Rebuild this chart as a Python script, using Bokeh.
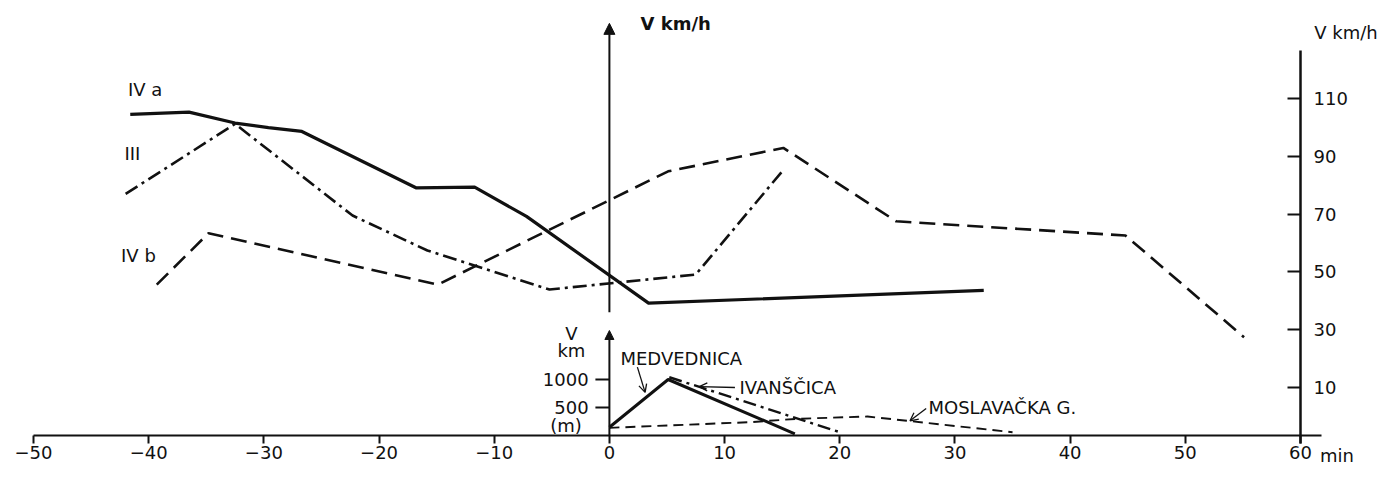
import math
from bokeh.plotting import figure
from bokeh.models import Range1d, FixedTicker, Arrow, NormalHead, OpenHead, LinearAxis
from bokeh.core.properties import value
from bokeh.embed import file_html
from bokeh.resources import INLINE

# ---------------- data ----------------
x_ticks = [-50, -40, -30, -20, -10, 0, 10, 20, 30, 40, 50, 60]
v_ticks = [10, 30, 50, 70, 90, 110]
alt_ticks = [500, 1000]
alt_tick_labels = ["500", "1000"]

# speed profiles (min, km/h)
time_IVa = [-41.6, -36.5, -32.5, -29.6, -26.7, -16.8, -11.7, -7.2, 3.4, 32.5]
speed_IVa = [104.5, 105.3, 101.5, 99.9, 98.6, 79.1, 79.3, 69.2, 39.2, 43.6]

time_III = [-42.0, -32.5, -22.3, -15.8, -5.2, 7.5, 15.0]
speed_III = [77.0, 101.2, 69.5, 57.4, 43.9, 49.1, 84.8]

time_IVb = [-39.3, -34.8, -14.9, 5.1, 15.1, 24.9, 44.8, 55.1]
speed_IVb = [45.6, 63.4, 45.6, 84.8, 92.9, 67.5, 62.6, 27.4]

# terrain profiles (min, m)
time_med = [0.0, 5.1, 16.1]
alt_med = [148, 1000, 30]

time_ivan = [5.2, 20.0]
alt_ivan = [1040, 60]

time_mos = [0.0, 12.2, 16.3, 22.4, 35.0]
alt_mos = [137, 238, 298, 339, 59]

# ---------------- figure ----------------
FONT = "DejaVu Sans"
INK = "#111111"

X_AXIS_AT = -6.6      # speed value where the time axis is drawn
SPEED_AXIS_AT = 60    # time value where the speed axis is drawn

p = figure(width=1382, height=473,
           x_range=Range1d(-52.865, 67.12), y_range=Range1d(-19.76, 143.91),
           x_axis_location=None, y_axis_location=None,
           toolbar_location=None, output_backend="svg",
           min_border=0, min_border_left=0, min_border_right=0,
           min_border_top=0, min_border_bottom=0)
p.extra_y_ranges = {"alt": Range1d(-678.6, 7767.9)}
p.outline_line_color = None
p.xgrid.visible = False
p.ygrid.visible = False

# time axis
xa = LinearAxis(fixed_location=X_AXIS_AT, ticker=FixedTicker(ticks=x_ticks),
                bounds=(-50, 61.8))
xa.major_label_text_font = FONT
xa.major_label_text_font_size = "18px"
xa.major_label_text_color = INK
xa.major_tick_out = 8
xa.major_tick_in = 0
xa.minor_tick_out = 0
xa.minor_tick_in = 0
xa.axis_line_width = 2
xa.axis_line_color = INK
xa.major_tick_line_width = 2
xa.major_tick_line_color = INK
xa.major_label_standoff = 3
p.add_layout(xa, "below")

# speed axis (right)
ya = LinearAxis(fixed_location=SPEED_AXIS_AT, ticker=FixedTicker(ticks=v_ticks),
                bounds=(-9.4, 126.6))
ya.major_label_text_font = FONT
ya.major_label_text_font_size = "18px"
ya.major_label_text_color = INK
ya.major_tick_in = 13
ya.major_tick_out = 0
ya.minor_tick_in = 0
ya.minor_tick_out = 0
ya.axis_line_width = 2.5
ya.axis_line_color = INK
ya.major_tick_line_width = 2
ya.major_tick_line_color = INK
ya.major_label_standoff = 13
p.add_layout(ya, "right")

# speed curves
p.line(time_IVa, speed_IVa, line_width=3.2, line_color=INK, line_join="round")
p.line(time_III, speed_III, line_width=2.6, line_color=INK, line_dash="14 5 3 5")
p.line(time_IVb, speed_IVb, line_width=2.6, line_color=INK, line_dash="16 8")

# terrain curves
p.line(time_med, alt_med, y_range_name="alt", line_width=3, line_color=INK)
p.line(time_ivan, alt_ivan, y_range_name="alt", line_width=2.4, line_color=INK, line_dash="13 5 3 5")
p.line(time_mos, alt_mos, y_range_name="alt", line_width=1.9, line_color=INK, line_dash="10 6")

# central speed axis (arrow)
axis_v_bottom, axis_v_top = 36, 136
p.add_layout(Arrow(end=NormalHead(size=11, fill_color=INK, line_color=INK),
                   x_start=0, y_start=axis_v_bottom, x_end=0, y_end=axis_v_top,
                   line_width=2, line_color=INK))

# inset altitude axis
inset_top = 1875
p.add_layout(Arrow(end=NormalHead(size=9, fill_color=INK, line_color=INK),
                   x_start=0, y_start=0, x_end=0, y_end=inset_top,
                   line_width=2, line_color=INK, y_range_name="alt"))
p.ray(x=[0] * len(alt_ticks), y=alt_ticks, length=14, length_units="screen",
      angle=math.pi, y_range_name="alt", line_width=2, line_color=INK)


def txt(x, y, t, align="left", rng="default", bold=False, size="18px"):
    kw = {}
    if rng != "default":
        kw["y_range_name"] = rng
    p.text(x=x, y=y, text=t, text_font=value(FONT), text_font_size=value(size),
           text_align=align, text_baseline="middle", text_color=INK,
           text_font_style="bold" if bold else "normal", **kw)


# series labels and axis titles
txt([-41.8, -42.1, -42.4], [113.1, 91.0, 55.7], ["IV a", "III", "IV b"])
txt([2.7], [136.0], ["V km/h"], bold=True)
txt([61.2], [132.8], ["V km/h"])
txt([61.7], [-13.5], ["min"])

# inset texts
txt([-1.8, -1.8], alt_ticks, alt_tick_labels, align="right", rng="alt")
txt([-2.4], [179], ["(m)"], align="right", rng="alt")
txt([-3.3, -3.3], [1821, 1518], ["V", "km"], align="center", rng="alt")
txt([0.96, 11.3, 27.7], [1375, 857, 500], ["MEDVEDNICA", "IVANŠČICA", "MOSLAVAČKA G."], rng="alt")

for (xs, ys, xe, ye) in [(2.43, 1220, 3.1, 770), (10.9, 857, 7.8, 872), (27.5, 482, 26.1, 262)]:
    p.add_layout(Arrow(end=OpenHead(size=8, line_color=INK, line_width=1.3),
                       x_start=xs, y_start=ys, x_end=xe, y_end=ye,
                       line_width=1.3, line_color=INK, y_range_name="alt"))

open("out.html", "w").write(file_html(p, INLINE))
